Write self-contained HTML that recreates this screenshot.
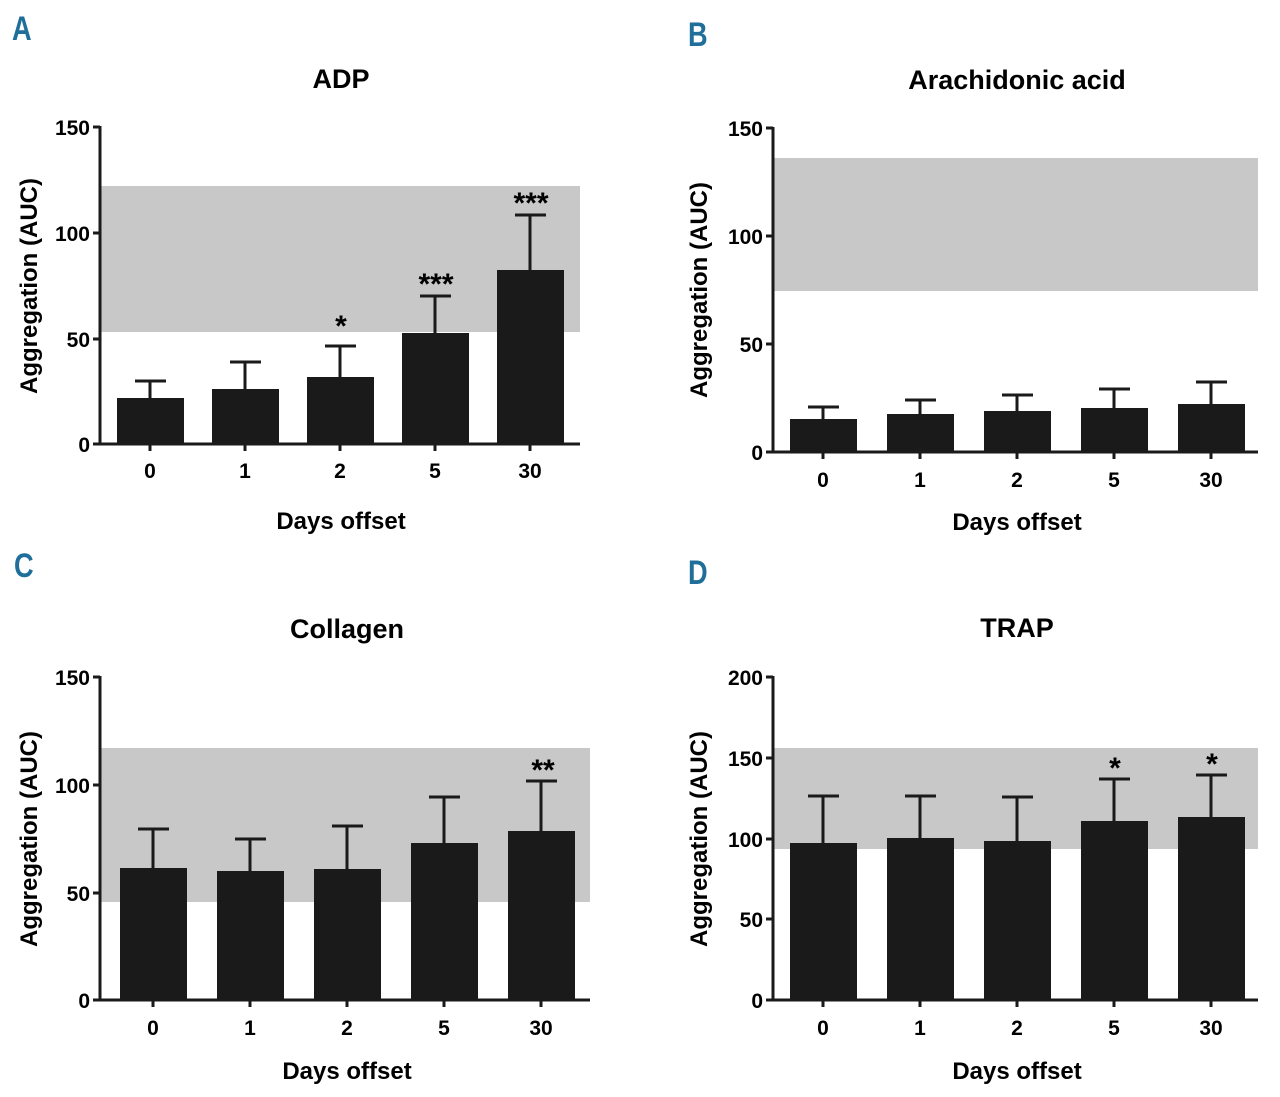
<!DOCTYPE html>
<html><head><style>body{margin:0;background:#fff}svg{display:block}</style></head><body>
<svg width="1280" height="1097" xmlns="http://www.w3.org/2000/svg" font-family="Liberation Sans, sans-serif" font-weight="bold">
<g fill="#1f6f9a" font-size="34" font-family="Liberation Sans Narrow, Liberation Sans, sans-serif">
<text x="12" y="40" transform="scale(0.8,1)" transform-origin="12 40">A</text>
<text x="688" y="46" transform="scale(0.8,1)" transform-origin="688 46">B</text>
<text x="14" y="577" transform="scale(0.8,1)" transform-origin="14 577">C</text>
<text x="688" y="584" transform="scale(0.8,1)" transform-origin="688 584">D</text>
</g>
<!-- Panel A -->
<rect x="101" y="186" width="479" height="146" fill="#c8c8c8"/>
<g fill="#1a1a1a">
<rect x="117" y="398" width="67" height="46"/><rect x="212" y="389" width="67" height="55"/><rect x="307" y="377" width="67" height="67"/><rect x="402" y="333" width="67" height="111"/><rect x="497" y="270" width="67" height="174"/>
</g>
<g stroke="#1a1a1a" stroke-width="3" fill="none">
<path d="M150 398V381M135 381H166M245 389V362M230 362H261M340 377V346M325 346H356M435 333V296M420 296H451M530 270V215M515 215H546"/>
<path d="M100 126V444H580M93 127H100M93 233H100M93 339H100M93 444H100M150 444V451M245 444V451M340 444V451M435 444V451M530 444V451"/>
</g>
<g font-size="21" text-anchor="end"><text x="90" y="135">150</text><text x="90" y="241">100</text><text x="90" y="347">50</text><text x="90" y="452">0</text></g>
<g font-size="21" text-anchor="middle"><text x="150" y="478">0</text><text x="245" y="478">1</text><text x="340" y="478">2</text><text x="435" y="478">5</text><text x="530" y="478">30</text>
<text x="341" y="529" font-size="24">Days offset</text><text x="341" y="88" font-size="27">ADP</text>
<text x="341" y="336" font-size="30">*</text><text x="436" y="294" font-size="30">***</text><text x="531" y="213" font-size="30">***</text>
<text transform="translate(37,286) rotate(-90)" font-size="24">Aggregation (AUC)</text></g>
<!-- Panel B -->
<rect x="774" y="158" width="484" height="133" fill="#c8c8c8"/>
<g fill="#1a1a1a">
<rect x="790" y="419" width="67" height="33"/><rect x="887" y="414" width="67" height="38"/><rect x="984" y="411" width="67" height="41"/><rect x="1081" y="408" width="67" height="44"/><rect x="1178" y="404" width="67" height="48"/>
</g>
<g stroke="#1a1a1a" stroke-width="3" fill="none">
<path d="M823 419V407M808 407H839M920 414V400M905 400H936M1017 411V395M1002 395H1033M1114 408V389M1099 389H1130M1211 404V382M1196 382H1227"/>
<path d="M773 127V452H1258M766 128H773M766 236H773M766 344H773M766 452H773M823 452V459M920 452V459M1017 452V459M1114 452V459M1211 452V459"/>
</g>
<g font-size="21" text-anchor="end"><text x="763" y="136">150</text><text x="763" y="244">100</text><text x="763" y="352">50</text><text x="763" y="460">0</text></g>
<g font-size="21" text-anchor="middle"><text x="823" y="487">0</text><text x="920" y="487">1</text><text x="1017" y="487">2</text><text x="1114" y="487">5</text><text x="1211" y="487">30</text>
<text x="1017" y="530" font-size="24">Days offset</text><text x="1017" y="89" font-size="27">Arachidonic acid</text>
<text transform="translate(707,290) rotate(-90)" font-size="24">Aggregation (AUC)</text></g>
<!-- Panel C -->
<rect x="101" y="748" width="489" height="154" fill="#c8c8c8"/>
<g fill="#1a1a1a">
<rect x="120" y="868" width="67" height="132"/><rect x="217" y="871" width="67" height="129"/><rect x="314" y="869" width="67" height="131"/><rect x="411" y="843" width="67" height="157"/><rect x="508" y="831" width="67" height="169"/>
</g>
<g stroke="#1a1a1a" stroke-width="3" fill="none">
<path d="M153 868V829M138 829H169M250 871V839M235 839H266M347 869V826M332 826H363M444 843V797M429 797H460M541 831V781M526 781H557"/>
<path d="M100 676V1000H590M93 677H100M93 785H100M93 893H100M93 1000H100M153 1000V1007M250 1000V1007M347 1000V1007M444 1000V1007M541 1000V1007"/>
</g>
<g font-size="21" text-anchor="end"><text x="90" y="685">150</text><text x="90" y="793">100</text><text x="90" y="901">50</text><text x="90" y="1008">0</text></g>
<g font-size="21" text-anchor="middle"><text x="153" y="1035">0</text><text x="250" y="1035">1</text><text x="347" y="1035">2</text><text x="444" y="1035">5</text><text x="541" y="1035">30</text>
<text x="347" y="1079" font-size="24">Days offset</text><text x="347" y="638" font-size="27">Collagen</text>
<text x="543" y="780" font-size="30">**</text>
<text transform="translate(37,839) rotate(-90)" font-size="24">Aggregation (AUC)</text></g>
<!-- Panel D -->
<rect x="774" y="748" width="484" height="101" fill="#c8c8c8"/>
<g fill="#1a1a1a">
<rect x="790" y="843" width="67" height="157"/><rect x="887" y="838" width="67" height="162"/><rect x="984" y="841" width="67" height="159"/><rect x="1081" y="821" width="67" height="179"/><rect x="1178" y="817" width="67" height="183"/>
</g>
<g stroke="#1a1a1a" stroke-width="3" fill="none">
<path d="M823 843V796M808 796H839M920 838V796M905 796H936M1017 841V797M1002 797H1033M1114 821V779M1099 779H1130M1211 817V775M1196 775H1227"/>
<path d="M773 676V1000H1258M766 677H773M766 758H773M766 839H773M766 919H773M766 1000H773M823 1000V1007M920 1000V1007M1017 1000V1007M1114 1000V1007M1211 1000V1007"/>
</g>
<g font-size="21" text-anchor="end"><text x="763" y="685">200</text><text x="763" y="766">150</text><text x="763" y="847">100</text><text x="763" y="927">50</text><text x="763" y="1008">0</text></g>
<g font-size="21" text-anchor="middle"><text x="823" y="1035">0</text><text x="920" y="1035">1</text><text x="1017" y="1035">2</text><text x="1114" y="1035">5</text><text x="1211" y="1035">30</text>
<text x="1017" y="1079" font-size="24">Days offset</text><text x="1017" y="637" font-size="27">TRAP</text>
<text x="1115" y="778" font-size="30">*</text><text x="1212" y="774" font-size="30">*</text>
<text transform="translate(707,839) rotate(-90)" font-size="24">Aggregation (AUC)</text></g>
</svg>
</body></html>
